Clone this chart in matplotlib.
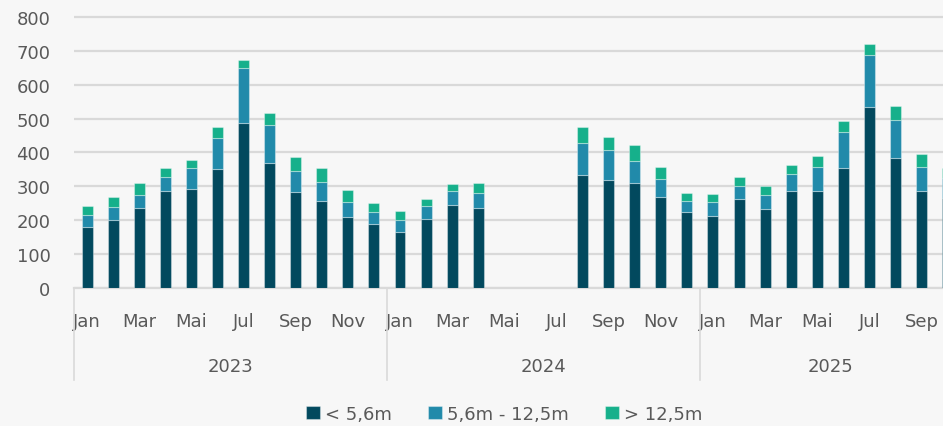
import matplotlib.pyplot as plt
import numpy as np

plt.rcParams['font.family'] = ['Liberation Sans Narrow', 'DejaVu Sans']

jahre = ['2023', '2024', '2025']
monate = ['Jan', 'Feb', 'Mar', 'Apr', 'Mai', 'Jun', 'Jul', 'Aug', 'Sep', 'Okt', 'Nov', 'Dez']
monate_pro_jahr = [12, 12, 10]

# Anzahl je Längenklasse, Monat für Monat (2024 Mai-Jul ohne Daten)
klein = [181, 201, 237, 285, 291, 351, 488, 370, 282, 256, 210, 190,
         166, 204, 245, 237, 0, 0, 0, 334, 320, 311, 269, 225,
         213, 262, 234, 287, 285, 355, 534, 384, 287, 265]
mittel = [34, 39, 39, 43, 64, 93, 160, 112, 64, 56, 43, 33,
          35, 39, 41, 44, 0, 0, 0, 95, 88, 65, 52, 33,
          40, 38, 41, 50, 73, 105, 154, 113, 71, 60]
gross = [26, 28, 34, 25, 22, 30, 24, 35, 41, 42, 36, 28,
         26, 20, 20, 28, 0, 0, 0, 45, 39, 47, 35, 23,
         24, 28, 27, 27, 33, 33, 31, 40, 39, 30]
klassen = ['< 5,6m', '5,6m - 12,5m', '> 12,5m']
farben = ['#02495E', '#218AAA', '#16B08B']

hintergrund = '#F7F7F7'
textfarbe = '#595959'
linienfarbe = '#D9D9D9'

fig = plt.figure(figsize=(9.43, 4.27), dpi=100, facecolor=hintergrund)
ax = fig.add_axes([74 / 943, 138 / 427, 869 / 943, 274.4 / 427])
ax.set_facecolor(hintergrund)

x = np.arange(len(klein))
unten = np.zeros(len(klein))
for werte, name, farbe in zip([klein, mittel, gross], klassen, farben):
    ax.bar(x, werte, 0.42, bottom=unten, color=farbe, label=name,
           edgecolor=(1, 1, 1, 0.35), linewidth=0.8, zorder=3)
    unten += np.array(werte)

ax.set_ylim(0, 810)
ax.set_xlim(-0.5, 32.82)
ax.set_yticks(range(0, 801, 100))
ax.yaxis.grid(True, color=linienfarbe, linewidth=1.6, zorder=0)
ax.tick_params(axis='y', length=0, pad=17, labelsize=13, labelcolor=textfarbe)

for s in ['top', 'right', 'left']:
    ax.spines[s].set_visible(False)
ax.spines['bottom'].set_color(linienfarbe)
ax.spines['bottom'].set_linewidth(1.6)

# Monatsbeschriftung (jeder zweite Monat) und Jahresgruppen
positionen, beschriftung = [], []
start = 0
for jahr, n in zip(jahre, monate_pro_jahr):
    for m in range(0, n, 2):
        positionen.append(start + m)
        beschriftung.append(monate[m])
    ax.annotate(jahr, xy=(start + (n - 1) / 2, 0), xycoords=('data', 'axes fraction'),
                xytext=(0, -56), textcoords='offset points', ha='center', va='center',
                fontsize=13, color=textfarbe)
    ax.plot([start - 0.5, start - 0.5], [0, -0.335], transform=ax.get_xaxis_transform(),
            color=linienfarbe, linewidth=1.2, clip_on=False)
    start += n

ax.set_xticks(positionen, beschriftung)
ax.tick_params(axis='x', length=0, pad=17, labelsize=13, labelcolor=textfarbe)

fig.legend(loc='lower center', bbox_to_anchor=(0.535, -0.03), ncol=3, frameon=False,
           fontsize=13, labelcolor=textfarbe, handlelength=0.75, handleheight=0.75,
           handletextpad=0.3, columnspacing=2.0)

fig.savefig('out.png', dpi=100, facecolor=hintergrund)
